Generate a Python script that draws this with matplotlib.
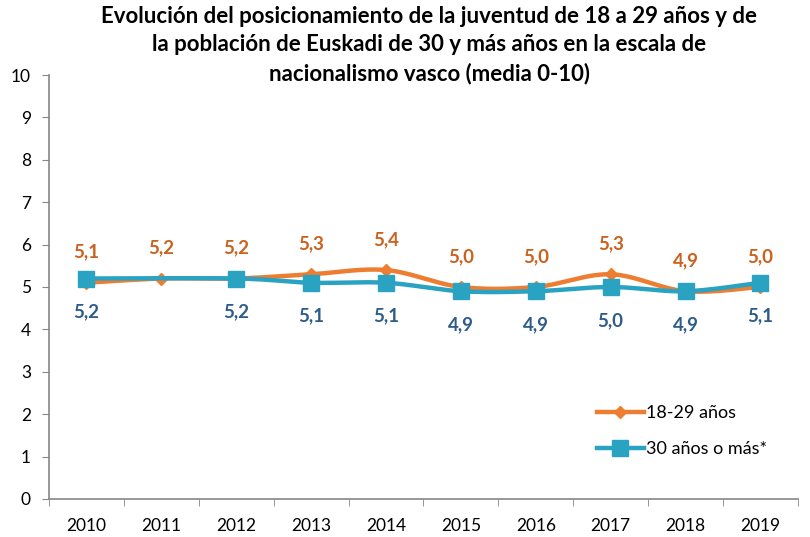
import numpy as np
import matplotlib
matplotlib.use("Agg")
import matplotlib.pyplot as plt
from matplotlib.lines import Line2D

plt.rcParams['font.family'] = ['Lato', 'DejaVu Sans']

years = ['2010', '2011', '2012', '2013', '2014', '2015', '2016', '2017', '2018', '2019']
jovenes = [5.1, 5.2, 5.2, 5.3, 5.4, 5.0, 5.0, 5.3, 4.9, 5.0]
mayores = [5.2, None, 5.2, 5.1, 5.1, 4.9, 4.9, 5.0, 4.9, 5.1]

c_or = '#ED7D31'
c_or_txt = '#C8621E'
c_te = '#2AA3C2'
c_te_txt = '#2E5C8A'


def suave(x, y, n=30):
    # curva tipo excel (catmull-rom) entre los puntos
    x = np.asarray(x, float)
    y = np.asarray(y, float)
    xs, ys = [], []
    for i in range(len(x) - 1):
        p0 = np.array([x[max(i - 1, 0)], y[max(i - 1, 0)]])
        p1 = np.array([x[i], y[i]])
        p2 = np.array([x[i + 1], y[i + 1]])
        p3 = np.array([x[min(i + 2, len(x) - 1)], y[min(i + 2, len(x) - 1)]])
        t = np.linspace(0, 1, n)[:, None]
        b1 = p1 + (p2 - p0) / 6
        b2 = p2 - (p3 - p1) / 6
        pts = (1 - t) ** 3 * p1 + 3 * (1 - t) ** 2 * t * b1 + 3 * (1 - t) * t ** 2 * b2 + t ** 3 * p2
        xs.extend(pts[:, 0])
        ys.extend(pts[:, 1])
    return np.array(xs), np.array(ys)


fig = plt.figure(figsize=(8.1, 5.37), dpi=100)
ax = fig.add_axes([0.0605, 0.0708, 0.9245, 0.7895])

x = np.arange(len(years))
xj, yj = suave(x, jovenes)
ax.plot(xj, yj, color=c_or, lw=3.2, zorder=2, solid_capstyle='round')
ax.plot(x, jovenes, ls='none', marker='D', ms=6, color=c_or, zorder=3)

xm = [i for i, v in enumerate(mayores) if v is not None]
vm = [v for v in mayores if v is not None]
xt, yt = suave(xm, vm)
ax.plot(xt, yt, color=c_te, lw=3.2, zorder=4, solid_capstyle='round')
ax.plot(xm, vm, ls='none', marker='s', ms=12, color=c_te, zorder=5)

for i, v in enumerate(jovenes):
    ax.annotate(f'{v:.1f}'.replace('.', ','), (i, v), xytext=(0, 22), textcoords='offset points',
                ha='center', va='center', fontsize=13.5, fontweight='bold', color=c_or_txt)
for i, v in zip(xm, vm):
    ax.annotate(f'{v:.1f}'.replace('.', ','), (i, v), xytext=(0, -24), textcoords='offset points',
                ha='center', va='center', fontsize=13.5, fontweight='bold', color=c_te_txt)

ax.set_xlim(-0.5, len(years) - 0.5)
ax.set_ylim(0, 10)
ax.set_yticks(range(0, 11))
ax.set_xticks(x)
ax.set_xticklabels(years)
ax.set_xticks(np.arange(-0.5, len(years)), minor=True)
ax.tick_params(axis='x', which='major', length=0, pad=14, labelsize=12.5)
ax.tick_params(axis='x', which='minor', length=5, color='#868686')
ax.tick_params(axis='y', length=5, color='#868686', labelsize=12.5, pad=8)
for s in ['top', 'right']:
    ax.spines[s].set_visible(False)
for s in ['left', 'bottom']:
    ax.spines[s].set_color('#868686')
    ax.spines[s].set_linewidth(1.2)

fig.text(0.53, 0.988, 'Evolución del posicionamiento de la juventud de 18 a 29 años y de\n'
         'la población de Euskadi de 30 y más años en la escala de\n'
         'nacionalismo vasco (media 0-10)',
         ha='center', va='top', fontsize=16, fontweight='bold', linespacing=1.4)

h1 = Line2D([], [], color=c_or, lw=3.2, marker='D', ms=6)
h2 = Line2D([], [], color=c_te, lw=3.2, marker='s', ms=12)
ax.legend([h1, h2], ['18-29 años', '30 años o más*'], loc='lower left',
          bbox_to_anchor=(0.71, 0.06), frameon=False, fontsize=13,
          handlelength=2.6, handletextpad=0.1, labelspacing=1.1)

fig.savefig('out.png', dpi=100)
